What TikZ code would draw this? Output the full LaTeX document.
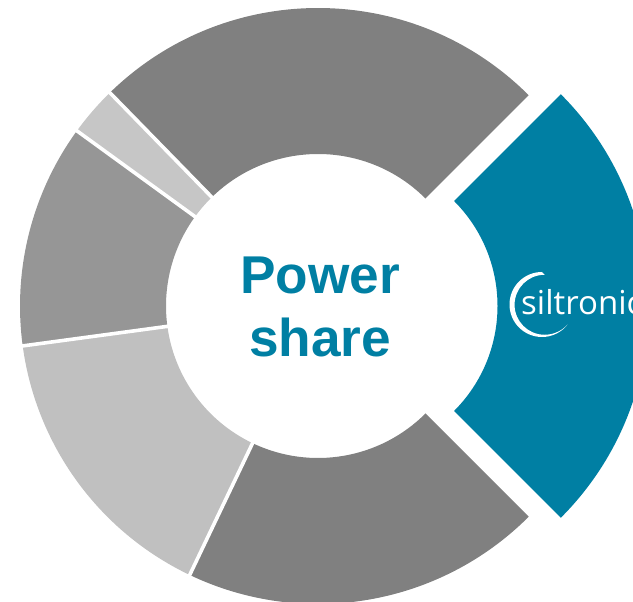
\documentclass[tikz,border=0pt]{standalone}
\usepackage{fontspec}
\setmainfont{Liberation Sans}
\newfontfamily\logofont{Open Sans}
\definecolor{teal}{HTML}{007FA3}
\definecolor{gA}{HTML}{808080}
\definecolor{gB}{HTML}{C0C0C0}
\definecolor{gC}{HTML}{969696}
\definecolor{gD}{HTML}{C6C6C6}
\newcommand{\ringsector}[7]{%
  \fill[#1] ([shift={(#4:#6)}]#2,#3) arc[start angle=#4,end angle=#5,radius=#6]
    -- ([shift={(#5:#7)}]#2,#3) arc[start angle=#5,end angle=#4,radius=#7] -- cycle;}
\tikzset{x=1bp,y=1bp,
  sep/.style={white,line width=3.6bp},
  title/.style={text=teal,font=\fontsize{53.2bp}{63.5bp}\selectfont\bfseries,align=center}}
\begin{document}
\begin{tikzpicture}
\useasboundingbox (0,0) rectangle (633,602);
\clip (0,0) rectangle (633,602);
\ringsector{gA}{318}{296}{45}{134.3}{298}{152}
\ringsector{gD}{318}{296}{134.3}{144}{298}{152}
\ringsector{gC}{318}{296}{144}{187.7}{298}{152}
\ringsector{gB}{318}{296}{187.7}{244.5}{298}{152}
\ringsector{gA}{318}{296}{244.5}{315}{298}{152}
\ringsector{teal}{349}{296}{-45}{45}{299.5}{148.5}
\foreach \a in {134.3,144,187.7,244.5}
  \draw[sep] ([shift={(\a:148)}]318,296) -- ([shift={(\a:302)}]318,296);
\node[title] (label) at (320,295) {Power\\share};
\fill[white] (542,330) arc[start angle=90,end angle=270,radius=32.5]
  arc[start angle=-90,end angle=-38,radius=32.5]
  arc[start angle=-42,end angle=-90,radius=31]
  arc[start angle=270,end angle=90,radius=30] -- cycle;
\node[anchor=base west,inner sep=0pt,text=white,font=\fontsize{33bp}{33bp}\logofont] (logo) at (521,287) {siltronic};
\end{tikzpicture}
\end{document}
